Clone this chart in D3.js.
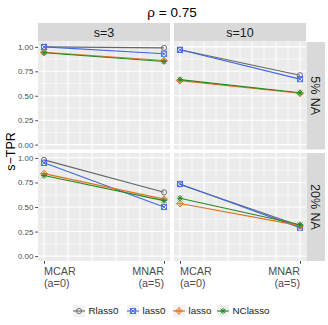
<!DOCTYPE html>
<html>
<head>
<meta charset="utf-8">
<script src="https://cdn.jsdelivr.net/npm/d3@7"></script>
<style>
  body { margin: 0; background: #fff; }
  svg { font-family: "Liberation Sans", Arial, sans-serif; }
</style>
</head>
<body>
<div id="chart"></div>
<script>
// facets
const sizeLevels = ["s=3", "s=10"]
const naLevels = ["5% NA", "20% NA"]
const mechA = [0, 5]
const mechLabels = [["MCAR", "(a=0)"], ["MNAR", "(a=5)"]]
const yTicks = [0, 0.25, 0.5, 0.75, 1]

// series, panel order: 5%/s=3, 5%/s=10, 20%/s=3, 20%/s=10 ; [MCAR, MNAR]
const methods = ["Rlass0", "lass0", "lasso", "NClasso"]
const rlass0 = [[1.00, 0.99], [0.97, 0.71], [0.98, 0.65], [0.73, 0.31]]
const lass0 = [[1.00, 0.93], [0.97, 0.67], [0.95, 0.50], [0.735, 0.29]]
const lasso = [[0.945, 0.86], [0.655, 0.525], [0.84, 0.58], [0.535, 0.31]]
const nclasso = [[0.94, 0.85], [0.665, 0.53], [0.82, 0.565], [0.59, 0.32]]
const seriesValues = [rlass0, lass0, lasso, nclasso]

const colors = ["#666666", "#4169E1", "#E2701F", "#228B22"]

const W = 328, H = 325
const svg = d3.select("#chart").append("svg").attr("width", W).attr("height", H)

const colX = [[38, 170], [174, 306]]
const rowY = [[42, 149.5], [153, 261]]

// title
svg.append("text").attr("x", 172).attr("y", 17).attr("text-anchor", "middle")
  .style("font-size", "13.5px").attr("fill", "#000").text("ρ = 0.75")

// y axis title
svg.append("text").attr("transform", "translate(15," + ((42 + 261) / 2) + ") rotate(-90)")
  .attr("text-anchor", "middle").style("font-size", "12.5px").attr("fill", "#000").text("s\u2212TPR")

// shape drawing
function drawShape(g, k, color) {
  const s = 2.6
  if (k === 0) {
    g.append("circle").attr("r", s).attr("fill", "none").attr("stroke", color).attr("stroke-width", 0.9)
  } else if (k === 1) {
    g.append("rect").attr("x", -s).attr("y", -s).attr("width", 2 * s).attr("height", 2 * s)
      .attr("fill", "none").attr("stroke", color).attr("stroke-width", 0.9)
    g.append("path").attr("d", `M${-s},${-s}L${s},${s}M${-s},${s}L${s},${-s}`)
      .attr("stroke", color).attr("stroke-width", 0.9)
  } else if (k === 2) {
    const r = s * 1.3
    g.append("path").attr("d", `M0,${-r}L${r},0L0,${r}L${-r},0Z`)
      .attr("fill", "none").attr("stroke", color).attr("stroke-width", 0.9)
    g.append("path").attr("d", `M0,${-r}V${r}M${-r},0H${r}`)
      .attr("stroke", color).attr("stroke-width", 0.9)
  } else {
    const r = s * 1.2, d = s * 0.85
    g.append("path").attr("d", `M0,${-r}V${r}M${-r},0H${r}M${-d},${-d}L${d},${d}M${-d},${d}L${d},${-d}`)
      .attr("stroke", color).attr("stroke-width", 1)
  }
}

for (let r = 0; r < 2; r++) {
  for (let c = 0; c < 2; c++) {
    const [x0, x1] = colX[c], [y0, y1] = rowY[r]
    const x = d3.scaleLinear().domain([-0.25, 5.25]).range([x0, x1])
    const y = d3.scaleLinear().domain([-0.05, 1.05]).range([y1, y0])
    const p = svg.append("g")

    p.append("rect").attr("x", x0).attr("y", y0).attr("width", x1 - x0).attr("height", y1 - y0).attr("fill", "#EBEBEB")

    // minor grid
    const yMinor = d3.range(0.125, 1, 0.25)
    p.selectAll(".ymin").data(yMinor).enter().append("line")
      .attr("x1", x0).attr("x2", x1).attr("y1", d => y(d)).attr("y2", d => y(d))
      .attr("stroke", "#fff").attr("stroke-width", 0.55)
    const xMinor = d3.range(0.5, 5, 1)
    p.selectAll(".xmin").data(xMinor).enter().append("line")
      .attr("y1", y0).attr("y2", y1).attr("x1", d => x(d)).attr("x2", d => x(d))
      .attr("stroke", "#fff").attr("stroke-width", 0.55)
    // major grid
    p.selectAll(".ymaj").data(yTicks).enter().append("line")
      .attr("x1", x0).attr("x2", x1).attr("y1", d => y(d)).attr("y2", d => y(d))
      .attr("stroke", "#fff").attr("stroke-width", 1.07)
    p.selectAll(".xmaj").data(d3.range(0, 6)).enter().append("line")
      .attr("y1", y0).attr("y2", y1).attr("x1", d => x(d)).attr("x2", d => x(d))
      .attr("stroke", "#fff").attr("stroke-width", 1.07)

    // series
    const pi = r * 2 + c
    seriesValues.forEach((vals, k) => {
      const pts = mechA.map((a, i) => [a, vals[pi][i]])
      p.append("path").datum(pts)
        .attr("d", d3.line().x(d => x(d[0])).y(d => y(d[1])))
        .attr("fill", "none").attr("stroke", colors[k]).attr("stroke-width", 1.1)
      pts.forEach(d => {
        const g = p.append("g").attr("transform", `translate(${x(d[0])},${y(d[1])})`)
        drawShape(g, k, colors[k])
      })
    })

    // y axis only on left column
    if (c === 0) {
      const ax = svg.append("g").attr("transform", `translate(${x0},0)`)
        .call(d3.axisLeft(y).tickValues(yTicks).tickFormat(d3.format(".2f")).tickSize(2.7).tickPadding(2))
      ax.select(".domain").remove()
      ax.selectAll("line").attr("stroke", "#333").attr("stroke-width", 0.9)
      ax.selectAll("text").attr("fill", "#4D4D4D").style("font-size", "7.9px").attr("font-family", null)
    }

    // x axis on bottom row
    if (r === 1) {
      const ax = svg.append("g").attr("transform", `translate(0,${y1})`)
        .call(d3.axisBottom(x).tickValues(mechA).tickSize(2.7).tickFormat(""))
      ax.select(".domain").remove()
      ax.selectAll("line").attr("stroke", "#333").attr("stroke-width", 0.9)
      mechA.forEach((a, i) => {
        const t = svg.append("text").attr("x", x(a)).attr("y", y1 + 14)
          .attr("text-anchor", i === 0 ? "start" : "end")
          .attr("fill", "#4D4D4D").style("font-size", "10.8px")
        mechLabels[i].forEach((s, j) => {
          t.append("tspan").attr("x", x(a)).attr("dy", j === 0 ? 0 : "1.15em").text(s)
        })
      })
    }
  }
}

// top strips
sizeLevels.forEach((s, c) => {
  const [x0, x1] = colX[c]
  svg.append("rect").attr("x", x0).attr("y", 23).attr("width", x1 - x0).attr("height", 18.5).attr("fill", "#D9D9D9")
  svg.append("text").attr("x", (x0 + x1) / 2).attr("y", 32.3).attr("dy", "0.35em")
    .attr("text-anchor", "middle").style("font-size", "12.5px").attr("fill", "#1A1A1A").text(s)
})
// right strips
naLevels.forEach((s, r) => {
  const [y0, y1] = rowY[r]
  svg.append("rect").attr("x", 306.5).attr("y", y0).attr("width", 18.5).attr("height", y1 - y0).attr("fill", "#D9D9D9")
  svg.append("text").attr("transform", `translate(${315.7},${(y0 + y1) / 2}) rotate(90)`).attr("dy", "0.35em")
    .attr("text-anchor", "middle").style("font-size", "12.5px").attr("fill", "#1A1A1A").text(s)
})

// legend
const legendX = [73, 127, 173, 217]
const leg = svg.append("g")
methods.forEach((m, k) => {
  const g = leg.append("g").attr("transform", `translate(${legendX[k]},311)`)
  g.append("rect").attr("x", 0).attr("y", -6).attr("width", 12).attr("height", 12).attr("fill", "#F2F2F2")
  g.append("line").attr("x1", 0).attr("x2", 12).attr("stroke", colors[k]).attr("stroke-width", 1.1)
  const sg = g.append("g").attr("transform", "translate(6,0)")
  drawShape(sg, k, colors[k])
  g.append("text").attr("x", 15.5).attr("dy", "0.35em").style("font-size", "9.8px").attr("fill", "#1A1A1A").text(m)
})
</script>
</body>
</html>
